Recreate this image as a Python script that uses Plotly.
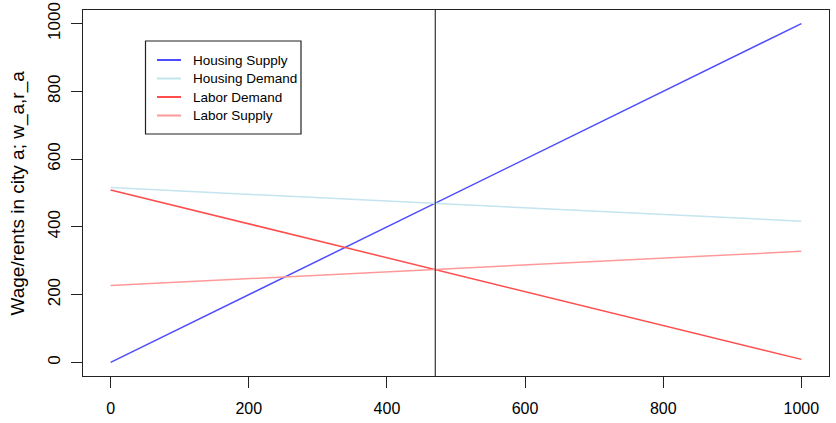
import plotly.graph_objects as go

# Data
x_pts = [0, 1000]
housing_supply = [0, 1000]
housing_demand = [516, 417]
labor_demand = [509, 9]
labor_supply = [227, 328]
equilibrium_x = 470

x_ticks = [0, 200, 400, 600, 800, 1000]
y_ticks = [0, 200, 400, 600, 800, 1000]

names = ["Housing Supply", "Housing Demand", "Labor Demand", "Labor Supply"]
colors = ["#4D4DFF", "#C4E4EF", "#FF4D4D", "#FF9999"]
values = [housing_supply, housing_demand, labor_demand, labor_supply]

FONT = "Liberation Sans, Arial, Helvetica, sans-serif"

fig = go.Figure()
for name, vals, col in zip(names, values, colors):
    fig.add_trace(go.Scatter(x=x_pts, y=vals, mode="lines", name=name,
                             showlegend=False,
                             line=dict(color=col, width=1.5)))

W, H = 836, 423
L, R, T, B = 83, 7, 10, 47
pw, ph = W - L - R, H - T - B

def px_x(p):
    return (p - L) / pw

def px_y(p):
    return (H - B - p) / ph

fig.add_shape(type="line", xref="x", yref="paper", x0=equilibrium_x, x1=equilibrium_x,
              y0=0, y1=1, line=dict(color="#333333", width=1.2))

# legend box (R-style legend)
fig.add_shape(type="rect", xref="paper", yref="paper",
              x0=px_x(145.5), x1=px_x(301), y0=px_y(134), y1=px_y(41),
              line=dict(color="#222222", width=1.2), fillcolor="rgba(0,0,0,0)")
row_y = [60, 78.5, 97, 115.5]
for name, col, ry in zip(names, colors, row_y):
    fig.add_shape(type="line", xref="paper", yref="paper",
                  x0=px_x(157), x1=px_x(181), y0=px_y(ry), y1=px_y(ry),
                  line=dict(color=col, width=2))
    fig.add_annotation(text=name, xref="paper", yref="paper",
                       x=px_x(191.5), y=px_y(ry), xanchor="left", yanchor="middle",
                       showarrow=False, borderpad=0,
                       font=dict(family=FONT, size=13.5, color="black"))

fig.add_annotation(text="Wage/rents in city a; w_a,r_a", xref="paper", yref="paper",
                   x=px_x(17.5), y=0.5, xanchor="center", yanchor="middle",
                   textangle=-90, showarrow=False,
                   font=dict(family=FONT, size=19, color="black"))

fig.update_layout(
    width=W, height=H,
    margin=dict(l=L, r=R, t=T, b=B),
    paper_bgcolor="white", plot_bgcolor="white",
    font=dict(family=FONT, size=16, color="black"),
    showlegend=False,
    xaxis=dict(range=[-40, 1040], tickvals=x_ticks, showgrid=False, zeroline=False,
               showline=True, linecolor="#222222", linewidth=1.2, mirror=True,
               ticks="outside", ticklen=11, tickcolor="#222222", tickwidth=1,
               tickfont=dict(size=16), ticklabelstandoff=7, automargin=False),
    yaxis=dict(range=[-40, 1040], tickvals=y_ticks, showgrid=False, zeroline=False,
               showline=True, linecolor="#222222", linewidth=1.2, mirror=True,
               ticks="outside", ticklen=11, tickcolor="#222222", tickwidth=1,
               tickangle=-90, tickfont=dict(size=17), ticklabelstandoff=4,
               automargin=False),
)

fig.write_html("out.html")
